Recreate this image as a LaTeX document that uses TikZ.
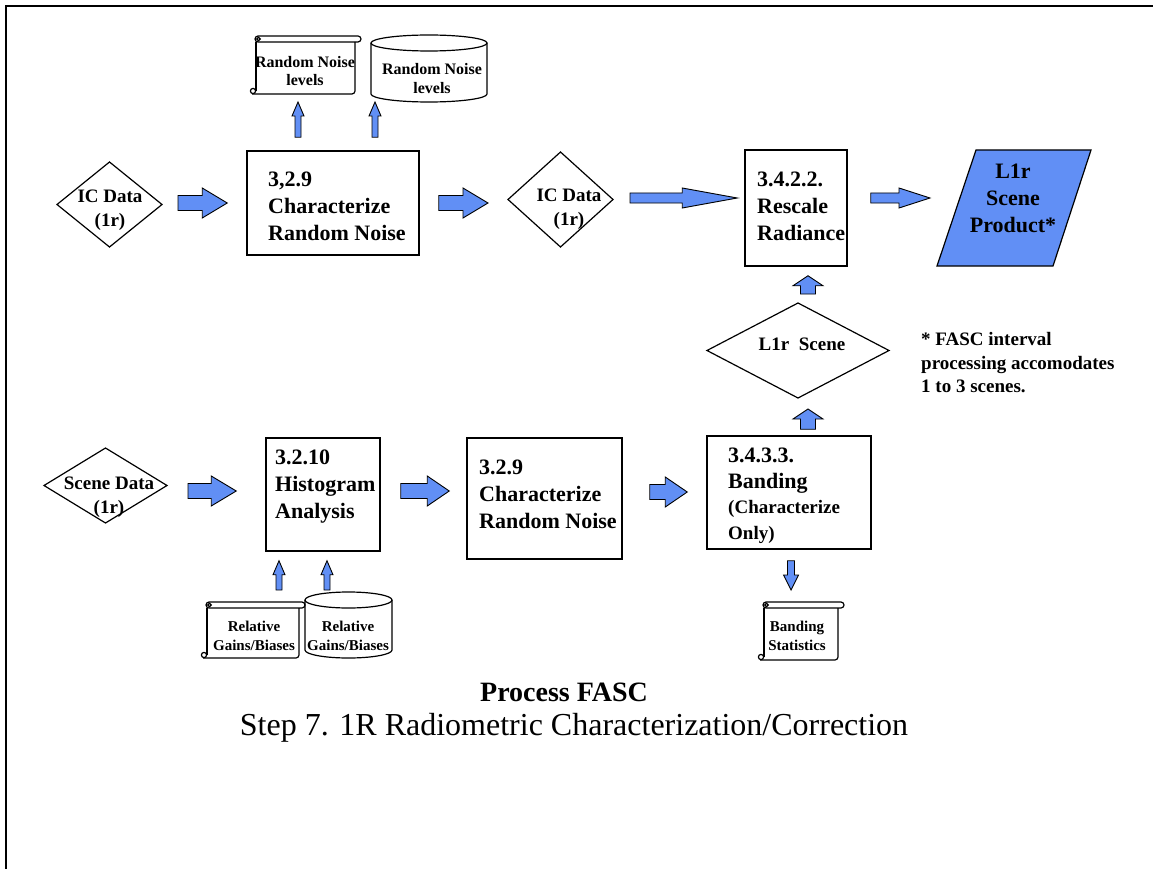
\documentclass[tikz,border=0pt]{standalone}
\usepackage{fontspec}
\setmainfont{Liberation Serif}
\usetikzlibrary{calc}
\definecolor{flowblue}{RGB}{97,143,245}

\tikzset{
  shapeline/.style={draw=black, line width=1.2pt},
  procbox/.style={draw=black, line width=1.5pt, inner sep=0pt, fill=white},
  shapeholder/.style={inner sep=0pt, outer sep=0pt},
  flowarrow/.style={fill=flowblue, draw=black, line width=0.9pt, line join=miter},
  bigtext/.style={font=\bfseries\fontsize{22}{27}\selectfont, inner sep=0pt},
  boxtext/.style={bigtext, align=left, anchor=west},
  midtext/.style={font=\bfseries\fontsize{19}{24}\selectfont, inner sep=0pt, align=center},
  smalltext/.style={font=\bfseries\fontsize{15}{18.5}\selectfont, inner sep=0pt, align=center},
}

% block arrow: #1 start, #2 tip, #3 shaft half width, #4 head half width, #5 head length
\newcommand\blockarrow[5]{%
  \coordinate (ba-s) at #1;
  \coordinate (ba-t) at #2;
  \coordinate (ba-h) at ($(ba-t)!#5!(ba-s)$);
  \filldraw[flowarrow] ($(ba-s)!#3!90:(ba-t)$) -- ($(ba-h)!#3!90:(ba-t)$)
    -- ($(ba-h)!#4!90:(ba-t)$) -- (ba-t) -- ($(ba-h)!#4!-90:(ba-t)$)
    -- ($(ba-h)!#3!-90:(ba-t)$) -- ($(ba-s)!#3!-90:(ba-t)$) -- cycle;
}

% document scroll drawn over the extent of node #1
\newcommand\scrollshape[1]{%
  \draw[shapeline, rounded corners=3pt] let \p1=(#1.north west), \p2=(#1.south east) in
    (\x1+5pt,\y1) rectangle (\x2,\y1-6pt);
  \draw[shapeline] let \p1=(#1.north west), \p2=(#1.south east) in
    (\x1+6pt,\y1-6pt) -- (\x1+6pt,\y2+3pt);
  \draw[shapeline, rounded corners=3pt] let \p1=(#1.north west), \p2=(#1.south east) in
    (\x1+2pt,\y2) -- (\x2-6pt,\y2) -- (\x2-6pt,\y1-6pt);
  \draw[shapeline] let \p1=(#1.north west), \p2=(#1.south east) in
    (\x1+3pt,\y2+3pt) circle[radius=2.6pt]
    (\x1+8.5pt,\y1-3pt) circle[radius=1.8pt];
}

% storage cylinder drawn over the extent of node #1
\newcommand\cylshape[1]{%
  \draw[shapeline] let \p1=(#1.north west), \p2=(#1.south east), \n1={(\x2-\x1)/2} in
    (\x1,\y1-8pt) -- (\x1,\y2+8pt)
    arc[start angle=180, end angle=360, x radius=\n1, y radius=8pt]
    -- (\x2,\y1-8pt);
  \draw[shapeline] let \p1=(#1.north west), \p2=(#1.south east), \n1={(\x2-\x1)/2} in
    ({(\x1+\x2)/2},\y1-8pt) ellipse[x radius=\n1, y radius=8pt];
}

\newcommand\diamondshape[1]{%
  \draw[shapeline] (#1.north) -- (#1.east) -- (#1.south) -- (#1.west) -- cycle;
}

\begin{document}
\begin{tikzpicture}[x=1pt, y=-1pt]
\useasboundingbox (0,0) rectangle (1153,869);
\clip (0,0) rectangle (1153,869);
\fill[white] (0,0) rectangle (1153,869);

% page frame
\draw[line width=2pt] (6,880) -- (6,6) -- (1165,6);

% ---------- upper chain ----------
\node[shapeholder, minimum width=111pt, minimum height=58pt] (rnscroll) at (305.5,65) {};
\scrollshape{rnscroll}
\node[smalltext, font=\bfseries\fontsize{16}{18.5}\selectfont] (rnscrolltxt) at (305,71) {Random Noise\\levels};

\node[shapeholder, minimum width=116pt, minimum height=67pt] (rncyl) at (429,68.5) {};
\cylshape{rncyl}
\node[smalltext, font=\bfseries\fontsize{16}{19}\selectfont] (rncyltxt) at (432,79) {Random Noise\\levels};

\node[shapeholder, minimum width=105pt, minimum height=85pt] (icin) at (109.5,204.5) {};
\diamondshape{icin}
\node[midtext] (icintxt) at (110,210) {IC Data\\(1r)};

\node[procbox, minimum width=172pt, minimum height=104pt] (rnoise) at (333,203) {};
\node[boxtext] (rnoisetxt) at (268,206) {3,2.9\\Characterize\\Random Noise};

\node[shapeholder, minimum width=105pt, minimum height=95pt] (icout) at (560.5,199.5) {};
\diamondshape{icout}
\node[midtext] (icouttxt) at (569,209) {IC Data\\(1r)};

\node[procbox, minimum width=102pt, minimum height=116pt] (rescale) at (796,208) {};
\node[boxtext] (rescaletxt) at (757,206) {3.4.2.2.\\Rescale\\Radiance};

\node[shapeholder, minimum width=154pt, minimum height=116pt] (product) at (1014,208) {};
\filldraw[fill=flowblue, shapeline] ($(product.north west)+(39,0)$) -- (product.north east)
  -- ($(product.south east)+(-38,0)$) -- (product.south west) -- cycle;
\node[bigtext, align=center] (producttxt) at (1013,198) {L1r\\Scene\\Product*};

\node[shapeholder, minimum width=182pt, minimum height=95pt] (scene) at (798,350.5) {};
\diamondshape{scene}
\node[midtext] (scenetxt) at (802,344) {L1r\ \ Scene};

\node[font=\bfseries\fontsize{19}{23.5}\selectfont, inner sep=0pt, align=left, anchor=west]
  (note) at (921,363) {* FASC interval\\processing accomodates\\1 to 3 scenes.};

% ---------- lower chain ----------
\node[shapeholder, minimum width=123pt, minimum height=75pt] (scin) at (105.5,485.5) {};
\diamondshape{scin}
\node[midtext] (scintxt) at (109,497) {Scene Data\\(1r)};

\node[procbox, minimum width=114pt, minimum height=113pt] (histo) at (323,494.5) {};
\node[boxtext] (histotxt) at (275,487) {3.2.10\\Histogram\\Analysis};

\node[procbox, minimum width=155pt, minimum height=121pt] (rnoiseb) at (544.5,498.5) {};
\node[boxtext] (rnoisebtxt) at (479,494) {3.2.9\\Characterize\\Random Noise};

\node[procbox, minimum width=164pt, minimum height=113pt] (banding) at (789,492.5) {};
\node[boxtext, font=\bfseries\fontsize{22}{25.5}\selectfont] (bandingtxt) at (728,496)
  {3.4.3.3.\\Banding\\\fontsize{19}{24}\selectfont(Characterize\\\fontsize{19}{24}\selectfont Only)};

\node[shapeholder, minimum width=86pt, minimum height=58pt] (bstats) at (801,631) {};
\scrollshape{bstats}
\node[smalltext] (bstatstxt) at (797,636) {Banding\\Statistics};

\node[shapeholder, minimum width=104pt, minimum height=56pt] (gbscroll) at (253,630) {};
\scrollshape{gbscroll}
\node[smalltext] (gbscrolltxt) at (254,636) {Relative\\Gains/Biases};

\node[shapeholder, minimum width=87pt, minimum height=66pt] (gbcyl) at (348.5,625) {};
\cylshape{gbcyl}
\node[smalltext] (gbcyltxt) at (348,636) {Relative\\Gains/Biases};

% ---------- captions ----------
\node[font=\bfseries\fontsize{28}{32}\selectfont, inner sep=0pt] (title) at (564,692) {Process FASC};
\node[font=\fontsize{32}{36}\selectfont, inner sep=0pt] (subtitle) at (574,728)
  {Step 7. 1R Radiometric Characterization/Correction};

% ---------- flow arrows ----------
\blockarrow{($(icin.east)+(16,-1.5)$)}{($(rnoise.west)+(-19,0)$)}{7.5pt}{15pt}{25pt}
\blockarrow{($(rnoise.east)+(19,0)$)}{($(icout.west)+(-20,3.5)$)}{7.5pt}{15pt}{25pt}
\blockarrow{($(icout.east)+(17,-1.5)$)}{($(rescale.west)+(-7,-10)$)}{5pt}{10pt}{55pt}
\blockarrow{($(rescale.east)+(23,-10)$)}{($(product.west)+(-7,-10)$)}{5pt}{10pt}{31pt}
\blockarrow{($(scene.north)+(10,-9)$)}{($(rescale.south)+(12,9)$)}{7.5pt}{15pt}{10pt}
\blockarrow{($(banding.north)+(19,-6)$)}{($(scene.south)+(10,11)$)}{7.5pt}{15pt}{10pt}
\blockarrow{($(banding.south)+(2,11)$)}{($(bstats.north)+(-10,-12)$)}{3.5pt}{7.5pt}{15pt}
\blockarrow{($(scin.east)+(21,5.5)$)}{($(histo.west)+(-29,-3.5)$)}{7.5pt}{15pt}{25pt}
\blockarrow{($(histo.east)+(20,-3.5)$)}{($(rnoiseb.west)+(-17,-7.5)$)}{7.5pt}{15pt}{22pt}
\blockarrow{($(rnoiseb.east)+(27,-6.5)$)}{($(banding.west)+(-19,-0.5)$)}{7.5pt}{15pt}{22pt}
\blockarrow{($(rnoise.north)+(-35,-13)$)}{($(rnscroll.south)+(-7.5,8)$)}{3pt}{6pt}{14pt}
\blockarrow{($(rnoise.north)+(42,-13)$)}{($(rncyl.south)+(-54,0)$)}{3pt}{6pt}{14pt}
\blockarrow{($(gbscroll.north)+(26,-12)$)}{($(histo.south)+(-44,9)$)}{3pt}{6pt}{14pt}
\blockarrow{($(gbcyl.north)+(-21.5,-2)$)}{($(histo.south)+(4,9)$)}{3pt}{6pt}{14pt}
\end{tikzpicture}
\end{document}
